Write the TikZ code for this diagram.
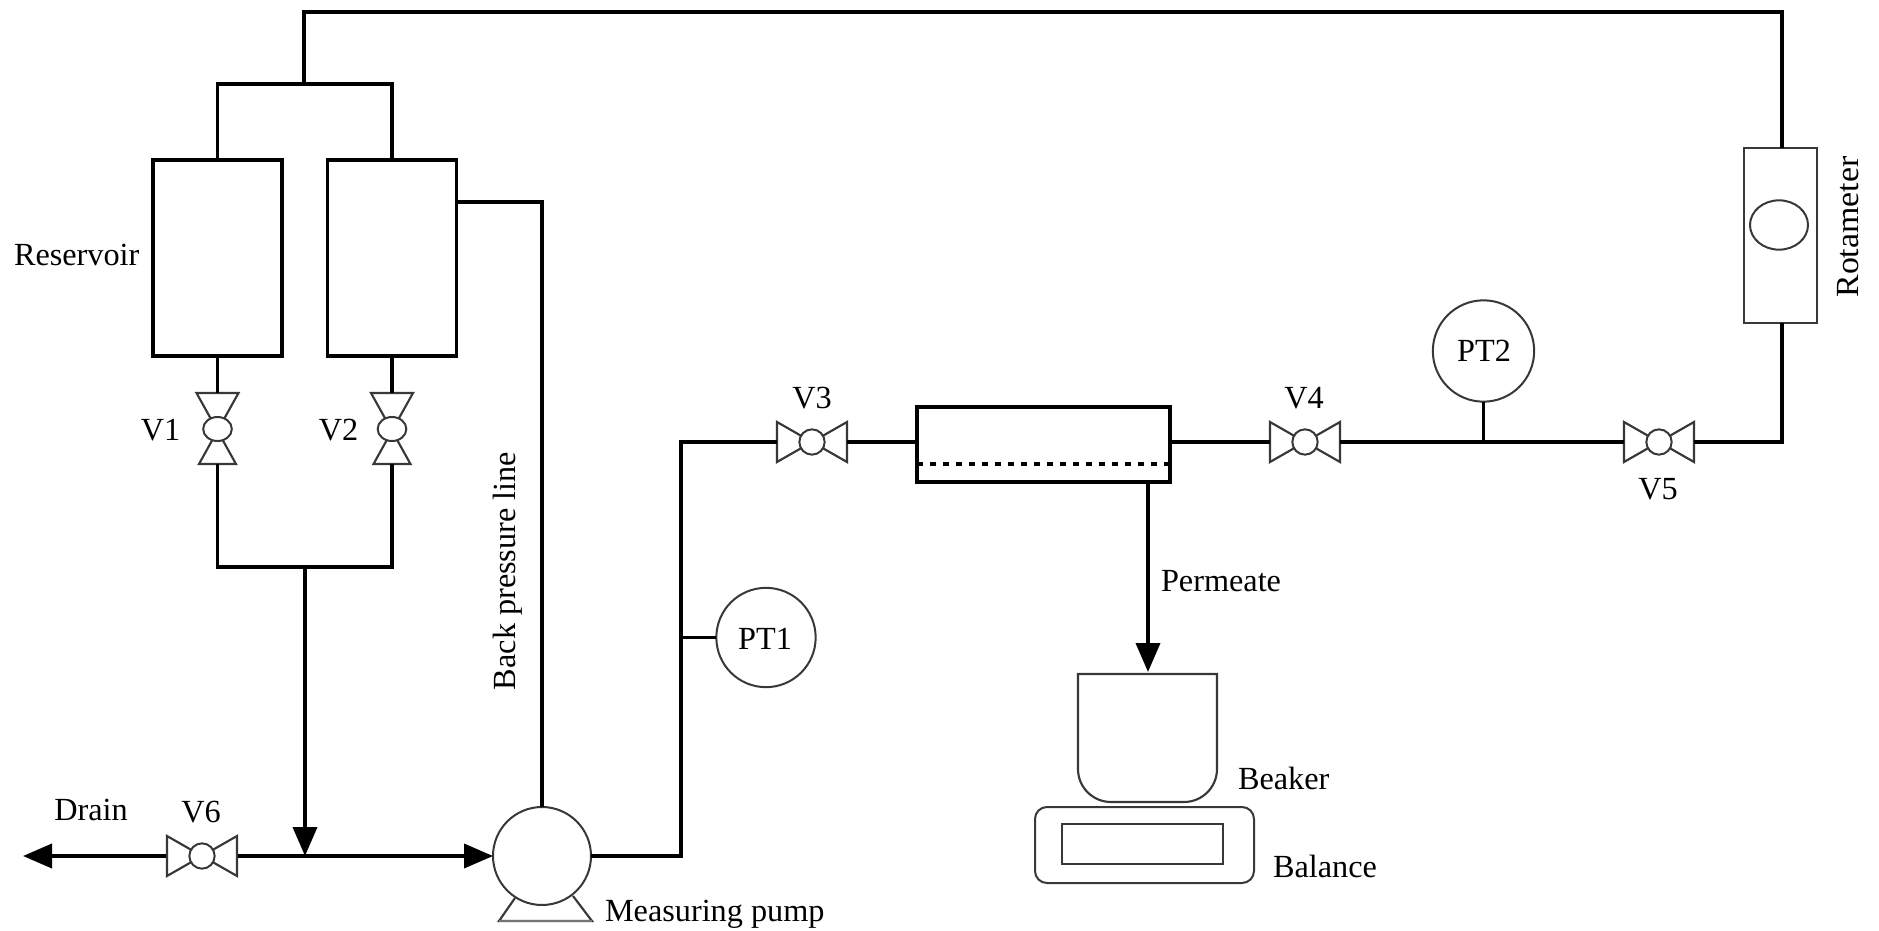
\documentclass[tikz,border=0pt]{standalone}
\usepackage{fontspec}
\setmainfont{Liberation Serif}
\usetikzlibrary{arrows.meta,calc,shapes.geometric}
\definecolor{thinc}{gray}{0.22}
\tikzset{
  pipe/.style={line width=2.85pt,black,line cap=butt,line join=miter},
  thinline/.style={line width=1.6pt,thinc,line join=miter},
  flow/.style={-{Triangle[length=21.75pt,width=18pt]}},
  vessel/.style={draw=black,line width=2.7pt,rectangle,inner sep=0pt,outer sep=0pt,fill=white},
  meter/.style={draw=thinc,line width=1.5pt,circle,inner sep=0pt,outer sep=0pt,fill=white},
  port/.style={rectangle,inner sep=0pt,outer sep=0pt},
  lbl/.style={inner sep=0pt,outer sep=0pt,black,font=\fontsize{24.2}{28}\selectfont},
}
\newcommand{\hvalve}[3]{%
  \node[port,minimum width=52.5pt,minimum height=30pt] (#1) at (#2,#3) {};
  \draw[thinline] ($(#1.center)+(-35,-20)$) -- ($(#1.center)+(35,20)$) -- ($(#1.center)+(35,-20)$) -- ($(#1.center)+(-35,20)$) -- cycle;
  \node[meter,minimum width=19pt,minimum height=19pt] at (#1.center) {};
}
\newcommand{\vvalve}[3]{%
  \node[port,minimum width=30pt,minimum height=53pt] (#1) at (#2,#3) {};
  \draw[thinline] ($(#1.center)+(-21,-36)$) -- ($(#1.center)+(21,-36)$) -- ($(#1.center)+(-18.5,35)$) -- ($(#1.center)+(18.5,35)$) -- cycle;
  \node[draw=thinc,line width=1.5pt,ellipse,inner sep=0pt,outer sep=0pt,fill=white,minimum width=21.5pt,minimum height=18pt] at (#1.center) {};
}
\begin{document}
\begin{tikzpicture}[x=0.75pt,y=-0.75pt]
\useasboundingbox (0,0) rectangle (1879,931);

% vessels
\node[vessel,minimum width=96.5pt,minimum height=147pt] (resA) at (217.5,258) {};
\node[vessel,minimum width=96.5pt,minimum height=147pt] (resB) at (392,258) {};
\node[vessel,minimum width=189.75pt,minimum height=56.25pt] (module) at (1043.5,444.5) {};
\node[draw=thinc,line width=1.8pt,rectangle,inner sep=0pt,outer sep=0pt,minimum width=54.75pt,minimum height=131.25pt] (rota) at (1780.5,235.5) {};
\node[draw=thinc,line width=1.5pt,ellipse,inner sep=0pt,minimum width=43.5pt,minimum height=37pt] (bob) at (1779,225) {};

% valves
\vvalve{V1}{217.5}{429}
\vvalve{V2}{392}{429}
\hvalve{V3}{812}{442}
\hvalve{V4}{1305}{442}
\hvalve{V5}{1659}{442}
\hvalve{V6}{202}{856}

% instruments
\node[meter,minimum size=73.5pt] (pump) at (542,856) {};
\node[meter,minimum size=74.5pt] (PTone) at (766,637.5) {};
\node[meter,minimum size=76pt] (PTtwo) at (1483.5,351) {};

% junctions
\coordinate (topL) at (304,12);
\coordinate (topR) at (1782,12);
\coordinate (topJ) at (304,84);
\coordinate (barL) at (217.5,84);
\coordinate (barR) at (392,84);
\coordinate (lowL) at (217.5,567);
\coordinate (lowR) at (392,567);
\coordinate (lowJ) at (305,567);
\coordinate (mainJ) at (305,856);
\coordinate (drainEnd) at (23,856);
\coordinate (backJ) at (542,202);
\coordinate (riseJ) at (681,856);
\coordinate (riseT) at (681,442);
\coordinate (ptJ) at (681,637.5);
\coordinate (teeTwo) at (1483.5,442);
\coordinate (rotaB) at (1782,442);
\coordinate (beakTop) at (1148,672);

% pipes
\draw[pipe] (topJ) -- (topL) -- (topR) -- (topR |- rota.north);
\draw[pipe] (resA.north) -- (barL) -- (barR) -- (resB.north);
\draw[pipe] (resA.south) -- ($(V1.center)+(0,-36)$);
\draw[pipe] (resB.south) -- ($(V2.center)+(0,-36)$);
\draw[pipe] ($(V1.center)+(0,35)$) -- (lowL) -- (lowR) -- ($(V2.center)+(0,35)$);
\draw[pipe,flow] (lowJ) -- (mainJ);
\draw[pipe,flow] ($(V6.center)+(-36,0)$) -- (drainEnd);
\draw[pipe,flow] ($(V6.center)+(36,0)$) -- (pump.west);
\draw[pipe] (pump.north) -- (backJ) -- (resB.east |- backJ);
\draw[pipe] (pump.east) -- (riseJ) -- (riseT) -- ($(V3.center)+(-35,0)$);
\draw[pipe] (ptJ) -- (PTone.west);
\draw[pipe] ($(V3.center)+(35,0)$) -- (module.west |- V3.center);
\draw[pipe] (module.east |- V4.center) -- ($(V4.center)+(-35,0)$);
\draw[pipe] ($(V4.center)+(35,0)$) -- ($(V5.center)+(-35,0)$);
\draw[pipe] (PTtwo.south) -- (teeTwo);
\draw[pipe] ($(V5.center)+(35,0)$) -- (rotaB) -- (rotaB |- rota.south);
\draw[pipe,flow] (beakTop |- module.south) -- (beakTop);

% membrane
\draw[line width=2.7pt,black,dash pattern=on 4.5pt off 5.25pt] (module.west |- 0,464) -- (module.east |- 0,464);

% pump feet
\draw[thinline] (515,898) -- (499,921) -- (592,921) -- (573,896);
\draw[line width=2.2pt,thinc!70!white] (499,921) -- (592,921);

% beaker and balance
\draw[thinline,line width=1.6pt] (1078,674) -- (1217,674) -- (1217,769) arc[start angle=0,end angle=90,x radius=33,y radius=33] -- (1111,802) arc[start angle=90,end angle=180,x radius=33,y radius=33] -- cycle;
\node[draw=thinc,line width=1.5pt,rectangle,rounded corners=9pt,inner sep=0pt,minimum width=164.25pt,minimum height=57pt] (balance) at (1144.5,845) {};
\node[draw=thinc,line width=1.8pt,rectangle,inner sep=0pt,minimum width=120.75pt,minimum height=30pt] (display) at (1142.5,844) {};

% labels
\node[lbl,anchor=west] (tRes) at (14,255) {Reservoir};
\node[lbl] (tV1) at (160.5,430) {V1};
\node[lbl] (tV2) at (338.5,430) {V2};
\node[lbl] (tV3) at (812,398) {V3};
\node[lbl] (tV4) at (1304,398) {V4};
\node[lbl] (tV5) at (1658,489) {V5};
\node[lbl] (tV6) at (201,812) {V6};
\node[lbl] (tDr) at (91,810) {Drain};
\node[lbl,rotate=90] (tBack) at (508,571) {Back pressure line};
\node[lbl] (tP1) at (765,639) {PT1};
\node[lbl] (tP2) at (1484,351) {PT2};
\node[lbl,anchor=west] (tPerm) at (1161,581) {Permeate};
\node[lbl,anchor=west] (tBeak) at (1238,778) {Beaker};
\node[lbl,anchor=west] (tBal) at (1273,866) {Balance};
\node[lbl,anchor=base west] (tPump) at (605,921) {Measuring pump};
\node[lbl,rotate=90,xscale=1.05] (tRota) at (1848,227) {Rotameter};
\end{tikzpicture}
\end{document}
